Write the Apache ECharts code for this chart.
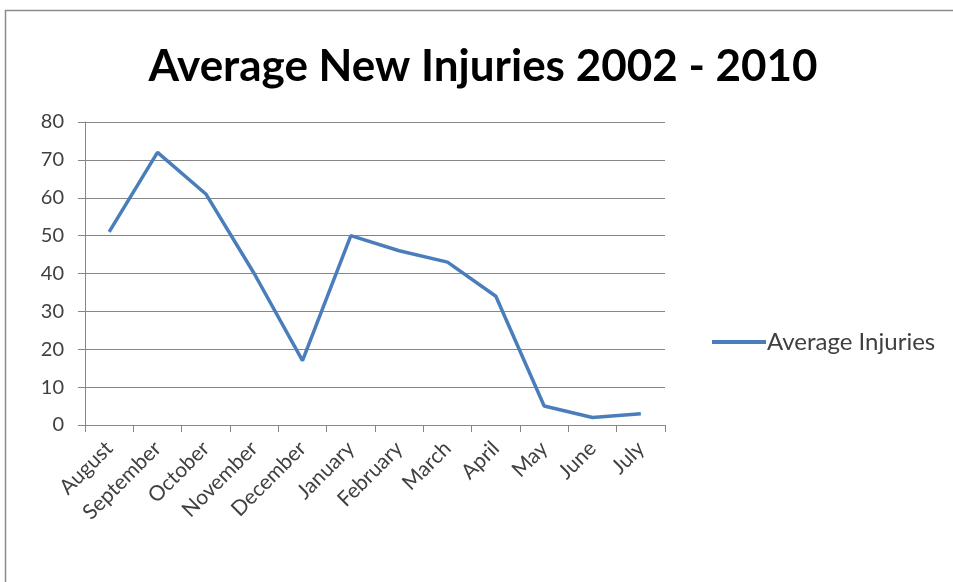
<!DOCTYPE html>
<html><head><meta charset="utf-8">
<script src="https://cdn.jsdelivr.net/npm/echarts@6/dist/echarts.min.js"></script>
<style>html,body{margin:0;padding:0;background:#fff}#c{width:953px;height:582px}</style>
</head><body><div id="c"></div>
<script>
const categories = ['August','September','October','November','December','January','February','March','April','May','June','July'];
const injuries = [51, 72, 61, 40, 17, 50, 46, 43, 34, 5, 2, 3];
const yTicks = [0, 10, 20, 30, 40, 50, 60, 70, 80];
const seriesName = 'Average Injuries';
const titleText = 'Average New Injuries 2002 - 2010';

const chart = echarts.init(document.getElementById('c'));
chart.setOption({
  backgroundColor: '#fff',
  animation: false,
  graphic: [{
    type: 'rect', shape: {x: 5.5, y: 10.5, width: 960, height: 580},
    style: {fill: 'none', stroke: '#8c8c8c', lineWidth: 1.5}, silent: true
  }],
  title: {
    text: titleText, left: 478, top: 40, textAlign: 'center',
    textStyle: {fontFamily: 'Lato', fontWeight: 'bold', fontSize: 44, color: '#000'}
  },
  legend: {
    data: [seriesName], left: 707, top: 325, itemWidth: 54, itemHeight: 4, itemGap: 4,
    icon: 'rect',
    textStyle: {fontFamily: 'Lato', fontSize: 24, color: '#404040', padding: [0,0,0,-4]}
  },
  grid: {left: 85, right: 288, top: 122, bottom: 157},
  xAxis: {
    type: 'category', data: categories, boundaryGap: true,
    axisLine: {lineStyle: {color: '#868686', width: 1}},
    axisTick: {show: true, alignWithLabel: false, length: 7, lineStyle: {color: '#868686'}},
    axisLabel: {rotate: 45, fontFamily: 'Lato', fontSize: 21, color: '#404040', margin: 20, interval: 0}
  },
  yAxis: {
    type: 'value', min: 0, max: 80, interval: 10,
    axisLine: {show: true, lineStyle: {color: '#868686', width: 1}},
    axisTick: {show: true, length: 7, lineStyle: {color: '#868686'}},
    splitLine: {lineStyle: {color: '#868686', width: 1}},
    axisLabel: {fontFamily: 'Lato', fontSize: 20, color: '#404040', margin: 21,
      formatter: v => yTicks.includes(v) ? String(v) : ''}
  },
  series: [{
    name: seriesName, type: 'line', data: injuries, showSymbol: false, symbol: 'none',
    lineStyle: {color: '#4a7ebb', width: 3.5}, itemStyle: {color: '#4a7ebb'}
  }]
});
</script></body></html>
